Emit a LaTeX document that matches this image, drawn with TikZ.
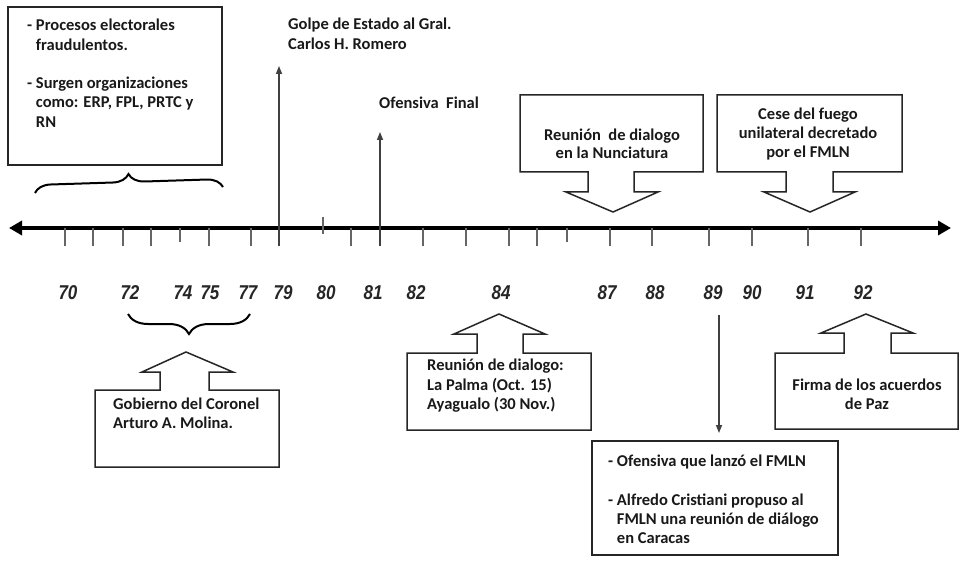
\documentclass[tikz,border=0pt]{standalone}
\usepackage{fontspec}
\setmainfont{Carlito}
\newfontfamily\yearfont{Liberation Sans}
\usetikzlibrary{arrows.meta,decorations.pathreplacing}
\begin{document}
\begin{tikzpicture}[x=1pt,y=-1pt,
  txt/.style={font=\fontsize{16.5}{19.3}\selectfont\bfseries, inner sep=0pt, text=black!90},
  yearlbl/.style={font=\fontsize{20}{20}\selectfont\yearfont\bfseries\itshape, inner sep=0pt, text=black!85},
  boxline/.style={draw=black!85, line width=1.5pt, fill=white},
  tick/.style={draw=black!60, line width=1.6pt},
  evarrow/.style={draw=black!75, line width=1.4pt, -{Triangle[length=8pt,width=6pt]}},
  bracestyle/.style={draw=black, line width=2pt, decorate}
]
\useasboundingbox (0,0) rectangle (967,567);
\fill[white] (0,0) rectangle (967,567);

% axis
\coordinate (axL) at (9,228);
\coordinate (axR) at (951,228);
\draw[line width=4pt, {Triangle[length=13pt,width=14pt]}-{Triangle[length=13pt,width=14pt]}] (axL) -- (axR);

% ticks
\foreach \x in {65,93,123,151,209,251,279,351,380,423,466,509,537,610,652,709,752,808,861}
  \draw[tick] (\x,228) -- (\x,246);
\foreach \x in {180,567}
  \draw[tick] (\x,228) -- (\x,242);
\draw[tick] (323,217) -- (323,234);

% year labels
\foreach \x/\y in {68/70,130/72,183/74,210/75,248/77,283/79,326/80,373/81,416/82,501/84,607/87,655/88,713/89,752/90,805/91,863/92}
  \node[yearlbl] (y\y) at (\x,293) {\scalebox{0.85}[1]{\y}};

% top-left box
\draw[boxline] (8,7) rectangle (222,165);
\node[txt, anchor=north west, align=left] (tl) at (27,19)
  {- Procesos electorales\\
   \phantom{- }fraudulentos.\\[19.3pt]
   - Surgen organizaciones\\
   \phantom{- }como: ERP, FPL, PRTC y\\
   \phantom{- }RN};

% top brace
\coordinate (brA) at (35,193);
\coordinate (brB) at (223,187);
\draw[bracestyle, decoration={brace, amplitude=16pt}] (brA) -- (brB);

% Golpe de estado arrow
\coordinate (g79) at (279,246);
\coordinate (g79t) at (279,66);
\draw[evarrow] (g79) -- (g79t);
\node[txt, anchor=north west, align=left] (golpe) at (288,18)
  {Golpe de Estado al Gral.\\Carlos H. Romero};

% Ofensiva final arrow
\coordinate (o81) at (380,246);
\coordinate (o81t) at (380,132);
\draw[evarrow] (o81) -- (o81t);
\node[txt, anchor=north west] (ofin) at (379,97) {Ofensiva\ \ Final};

% callout Nunciatura
\draw[boxline] (520,95) -- (703,95) -- (703,172) -- (634,172) -- (634,192) -- (658,192)
  -- (613,212) -- (566,192) -- (588,192) -- (588,172) -- (520,172) -- cycle;
\node[txt, align=center, font=\fontsize{16.5}{18}\selectfont\bfseries] (nunc) at (612,144)
  {Reunión\ \ de dialogo\\en la Nunciatura};

% callout Cese del fuego
\draw[boxline] (717,95) -- (902,95) -- (902,172) -- (833,172) -- (833,192) -- (855,192)
  -- (810,212) -- (764,192) -- (786,192) -- (786,172) -- (717,172) -- cycle;
\node[txt, align=center] (cese) at (808,134)
  {Cese del fuego\\unilateral decretado\\por el FMLN};

% bottom brace
\coordinate (bbA) at (128,314);
\coordinate (bbB) at (250,314);
\draw[bracestyle, decoration={brace, mirror, amplitude=20pt}] (bbA) -- (bbB);

% callout Molina
\draw[boxline] (186,352) -- (233,372) -- (209,372) -- (209,390) -- (279,390) -- (279,467)
  -- (95,467) -- (95,390) -- (160,390) -- (160,372) -- (142,372) -- cycle;
\node[txt, anchor=north west, align=left, font=\fontsize{16.5}{18.5}\selectfont\bfseries] (molina) at (113,398)
  {Gobierno del Coronel\\Arturo A. Molina.};

% callout La Palma
\draw[boxline] (499,314) -- (545,334) -- (523,334) -- (523,353) -- (591,353) -- (591,430)
  -- (407,430) -- (407,353) -- (477,353) -- (477,334) -- (454,334) -- cycle;
\node[txt, anchor=north west, align=left] (palma) at (427,359)
  {Reunión de dialogo:\\La Palma (Oct. 15)\\Ayagualo (30 Nov.)};

% callout Firma
\draw[boxline] (866,314) -- (913,333) -- (891,333) -- (891,353) -- (958,353) -- (958,429)
  -- (775,429) -- (775,353) -- (844,353) -- (844,333) -- (821,333) -- cycle;
\node[txt, align=center] (firma) at (867,394)
  {Firma de los acuerdos\\de Paz};

% arrow 89 and bottom-right box
\coordinate (a89) at (719,315);
\draw[boxline] (592,441) rectangle (838,555);
\coordinate (a89t) at (719,433);
\draw[evarrow] (a89) -- (a89t);
\node[txt, anchor=north west, align=left] (cara) at (608,455)
  {- Ofensiva que lanzó el FMLN\\[19pt]
   - Alfredo Cristiani propuso al\\
   \phantom{- }FMLN una reunión de diálogo\\
   \phantom{- }en Caracas};
\end{tikzpicture}
\end{document}
